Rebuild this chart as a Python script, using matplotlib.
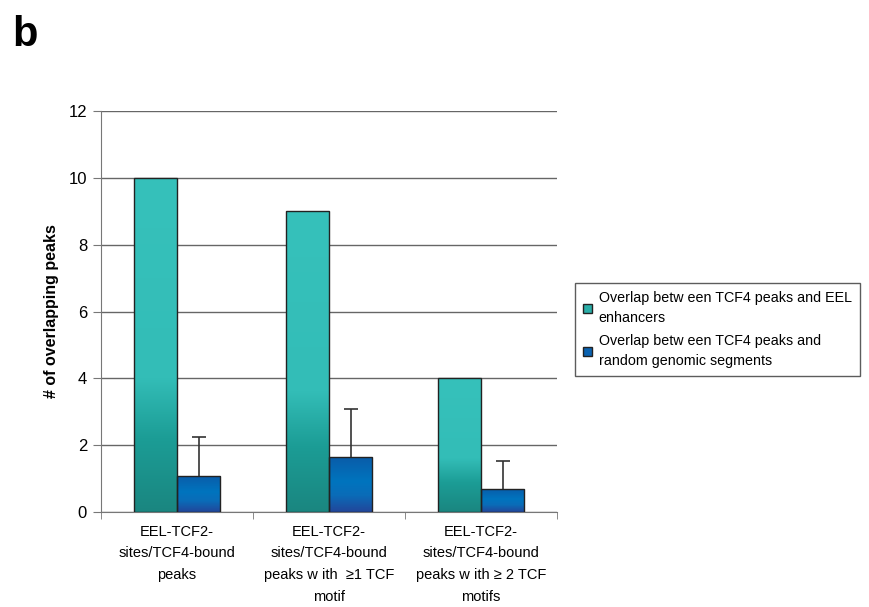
import numpy as np
import matplotlib
matplotlib.use('Agg')
import matplotlib.pyplot as plt
from matplotlib.colors import LinearSegmentedColormap
from matplotlib.patches import Patch

plt.rcParams['font.family'] = ['Liberation Sans', 'DejaVu Sans']

categories = ['EEL-TCF2-\nsites/TCF4-bound\npeaks',
              'EEL-TCF2-\nsites/TCF4-bound\npeaks w ith  \u22651 TCF\nmotif',
              'EEL-TCF2-\nsites/TCF4-bound\npeaks w ith \u2265 2 TCF\nmotifs']
eel_values = [10, 9, 4]
random_values = [1.08, 1.65, 0.69]
random_err = [1.17, 1.43, 0.84]
legend_labels = ['Overlap betw een TCF4 peaks and EEL\nenhancers',
                 'Overlap betw een TCF4 peaks and\nrandom genomic segments']
yticks = [0, 2, 4, 6, 8, 10, 12]

teal_cmap = LinearSegmentedColormap.from_list(
    'teal', [(0, '#1a8680'), (0.22, '#1c9d96'), (0.4, '#33bdb7'), (1, '#36c1bb')])
blue_cmap = LinearSegmentedColormap.from_list(
    'blue', [(0, '#22469a'), (0.3, '#0a6cb8'), (0.55, '#0074be'), (1, '#0a5ba8')])

fig = plt.figure(figsize=(8.69, 6.07), dpi=100)
ax = fig.add_axes([0.1162, 0.1565, 0.641 - 0.1162, 0.817 - 0.1565])

x = np.arange(len(categories))
w = 0.285
bars1 = ax.bar(x - w / 2, eel_values, w, color='#33bdb7', edgecolor='#222222', linewidth=1.0, zorder=3)
bars2 = ax.bar(x + w / 2, random_values, w, color='#0070bb', edgecolor='#222222', linewidth=1.0, zorder=3)

# vertical gradient inside every bar
grad = np.linspace(0, 1, 256).reshape(-1, 1)
for bars, cmap in [(bars1, teal_cmap), (bars2, blue_cmap)]:
    for b in bars:
        x0, y0 = b.get_x(), b.get_y()
        im = ax.imshow(grad, cmap=cmap, origin='lower', aspect='auto',
                       extent=[x0, x0 + b.get_width(), y0, y0 + b.get_height()],
                       zorder=3.5, interpolation='bilinear')
        im.set_clip_path(b)
        b.set_facecolor('none')
        b.set_zorder(4)

eb = ax.errorbar(x + w / 2, random_values, yerr=[np.zeros(3), random_err], fmt='none',
                 ecolor='#333333', elinewidth=1.2, capsize=5, capthick=1.2, zorder=2.5)
eb[1][0].set_visible(False)  # no cap at bar top

ax.set_xlim(-0.5, 2.5)
ax.set_ylim(0, 12)
ax.set_yticks(yticks)
ax.tick_params(axis='y', labelsize=12, direction='out', length=6, color='#777777', pad=4)
ax.set_xticks(x)
ax.set_xticklabels(categories, fontsize=10.5, linespacing=1.72)
ax.tick_params(axis='x', length=0, pad=9)
ax.set_xticks([-0.5, 0.5, 1.5, 2.5], minor=True)
ax.tick_params(axis='x', which='minor', direction='out', length=5, color='#777777')
ax.grid(axis='y', color='#666666', linewidth=1.0, zorder=0)
ax.set_axisbelow(True)
for s in ['top', 'right']:
    ax.spines[s].set_visible(False)
for s in ['left', 'bottom']:
    ax.spines[s].set_color('#777777')
ax.set_ylabel('# of overlapping peaks', fontsize=11.5, fontweight='bold', labelpad=7)

handles = [Patch(facecolor='#2aaea8', edgecolor='#222222'),
           Patch(facecolor='#0a62b0', edgecolor='#222222')]
leg = fig.legend(handles, legend_labels, loc='upper left', bbox_to_anchor=(0.662, 0.534),
                 fontsize=10.25, frameon=True, fancybox=False, edgecolor='#333333',
                 handlelength=0.6, handleheight=0.6, handletextpad=0.5,
                 borderpad=0.55, labelspacing=0.6, borderaxespad=0)
leg.get_frame().set_linewidth(1.0)
for t in leg.get_texts():
    t.set_linespacing(1.6)

fig.text(0.014, 0.925, 'b', fontsize=30, fontweight='bold')

fig.savefig('out.png', dpi=100)
